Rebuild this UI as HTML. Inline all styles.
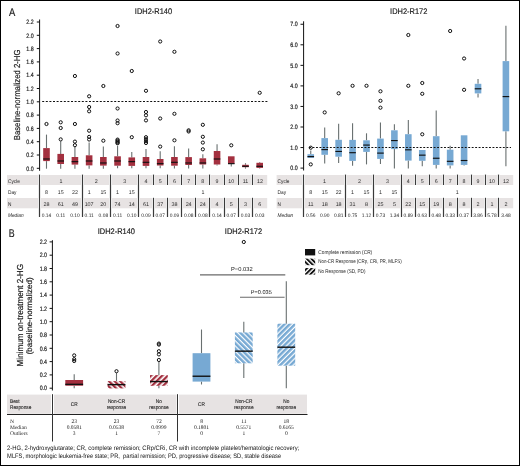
<!DOCTYPE html>
<html><head><meta charset="utf-8"><style>
html,body{margin:0;padding:0;background:#fff;}
svg{display:block;will-change:transform;}
svg{font-family:"Liberation Sans", sans-serif;}
text{text-rendering:geometricPrecision;stroke:#1a1a1a;stroke-width:0.18px;}
.s{font-family:"Liberation Serif", serif;stroke:none;}
.t{stroke:none;}
.u{stroke-width:0.1px;}
</style></head><body>
<svg width="520" height="466" viewBox="0 0 520 466" font-family='"Liberation Sans", sans-serif' fill="#1a1a1a">
<defs>
<pattern id="hr1" patternUnits="userSpaceOnUse" width="3.95" height="3.95" patternTransform="rotate(-45)"><rect width="2.3" height="3.95" fill="#a3303f"/></pattern>
<pattern id="hr2" patternUnits="userSpaceOnUse" width="3.95" height="3.95" patternTransform="rotate(45)"><rect width="2.3" height="3.95" fill="#a3303f"/></pattern>
<pattern id="hb1" patternUnits="userSpaceOnUse" width="3.7" height="3.7" patternTransform="rotate(-45)"><rect width="2.5" height="3.7" fill="#77a9d3"/></pattern>
<pattern id="hb2" patternUnits="userSpaceOnUse" width="3.7" height="3.7" patternTransform="rotate(45)"><rect width="2.5" height="3.7" fill="#77a9d3"/></pattern>
<pattern id="hk1" patternUnits="userSpaceOnUse" width="3.3" height="3.3" patternTransform="rotate(-45)"><rect width="1.9" height="3.3" fill="#111"/></pattern>
<pattern id="hk2" patternUnits="userSpaceOnUse" width="3.3" height="3.3" patternTransform="rotate(45)"><rect width="1.9" height="3.3" fill="#111"/></pattern>
</defs>
<rect x="0" y="0" width="520" height="466" fill="#fff"/>
<text transform="translate(9.1,16.4) scale(0.83,1)" font-size="11.3" text-anchor="start" >A</text>
<text transform="translate(153.5,13.8) scale(0.92,1)" font-size="8.1" text-anchor="middle" >IDH2-R140</text>
<text transform="translate(408.7,13.8) scale(0.92,1)" font-size="8.1" text-anchor="middle" >IDH2-R172</text>
<line x1="39.6" y1="19.5" x2="39.6" y2="170.8" stroke="#111" stroke-width="1"/>
<line x1="36.8" y1="168.30" x2="39.6" y2="168.30" stroke="#111" stroke-width="1"/>
<text transform="translate(33.6,170.50) scale(0.84,1)" font-size="6.3" text-anchor="end" >0.0</text>
<line x1="36.8" y1="155.00" x2="39.6" y2="155.00" stroke="#111" stroke-width="1"/>
<text transform="translate(33.6,157.20) scale(0.84,1)" font-size="6.3" text-anchor="end" >0.2</text>
<line x1="36.8" y1="141.70" x2="39.6" y2="141.70" stroke="#111" stroke-width="1"/>
<text transform="translate(33.6,143.90) scale(0.84,1)" font-size="6.3" text-anchor="end" >0.4</text>
<line x1="36.8" y1="128.40" x2="39.6" y2="128.40" stroke="#111" stroke-width="1"/>
<text transform="translate(33.6,130.60) scale(0.84,1)" font-size="6.3" text-anchor="end" >0.6</text>
<line x1="36.8" y1="115.10" x2="39.6" y2="115.10" stroke="#111" stroke-width="1"/>
<text transform="translate(33.6,117.30) scale(0.84,1)" font-size="6.3" text-anchor="end" >0.8</text>
<line x1="36.8" y1="101.80" x2="39.6" y2="101.80" stroke="#111" stroke-width="1"/>
<text transform="translate(33.6,104.00) scale(0.84,1)" font-size="6.3" text-anchor="end" >1.0</text>
<line x1="36.8" y1="88.50" x2="39.6" y2="88.50" stroke="#111" stroke-width="1"/>
<text transform="translate(33.6,90.70) scale(0.84,1)" font-size="6.3" text-anchor="end" >1.2</text>
<line x1="36.8" y1="75.20" x2="39.6" y2="75.20" stroke="#111" stroke-width="1"/>
<text transform="translate(33.6,77.40) scale(0.84,1)" font-size="6.3" text-anchor="end" >1.4</text>
<line x1="36.8" y1="61.90" x2="39.6" y2="61.90" stroke="#111" stroke-width="1"/>
<text transform="translate(33.6,64.10) scale(0.84,1)" font-size="6.3" text-anchor="end" >1.6</text>
<line x1="36.8" y1="48.60" x2="39.6" y2="48.60" stroke="#111" stroke-width="1"/>
<text transform="translate(33.6,50.80) scale(0.84,1)" font-size="6.3" text-anchor="end" >1.8</text>
<line x1="36.8" y1="35.30" x2="39.6" y2="35.30" stroke="#111" stroke-width="1"/>
<text transform="translate(33.6,37.50) scale(0.84,1)" font-size="6.3" text-anchor="end" >2.0</text>
<line x1="36.8" y1="22.00" x2="39.6" y2="22.00" stroke="#111" stroke-width="1"/>
<text transform="translate(33.6,24.20) scale(0.84,1)" font-size="6.3" text-anchor="end" >2.2</text>
<text transform="translate(20.2,94.9) rotate(-90) scale(0.89,1)" font-size="8.7" text-anchor="middle">Baseline-normalized 2-HG</text>
<line x1="46.49" y1="134.6" x2="46.49" y2="148.1" stroke="#697070" stroke-width="1.1"/>
<line x1="46.49" y1="161.1" x2="46.49" y2="168.7" stroke="#697070" stroke-width="1.1"/>
<rect x="43.190000000000005" y="148.1" width="6.6" height="13.0" fill="#a3303f"/>
<line x1="43.190000000000005" y1="158.99" x2="49.790000000000006" y2="158.99" stroke="#111" stroke-width="1.15"/>
<circle cx="46.49" cy="124.0" r="1.6" fill="none" stroke="#111" stroke-width="1"/>
<line x1="60.7" y1="141.2" x2="60.7" y2="153.9" stroke="#697070" stroke-width="1.1"/>
<line x1="60.7" y1="164.0" x2="60.7" y2="168.7" stroke="#697070" stroke-width="1.1"/>
<rect x="57.400000000000006" y="153.9" width="6.6" height="10.099999999999994" fill="#a3303f"/>
<line x1="57.400000000000006" y1="160.99" x2="64.0" y2="160.99" stroke="#111" stroke-width="1.15"/>
<circle cx="60.7" cy="139.4" r="1.6" fill="none" stroke="#111" stroke-width="1"/>
<circle cx="60.7" cy="128.0" r="1.6" fill="none" stroke="#111" stroke-width="1"/>
<circle cx="60.7" cy="122.3" r="1.6" fill="none" stroke="#111" stroke-width="1"/>
<line x1="74.92" y1="146.5" x2="74.92" y2="157.0" stroke="#697070" stroke-width="1.1"/>
<line x1="74.92" y1="164.6" x2="74.92" y2="168.7" stroke="#697070" stroke-width="1.1"/>
<rect x="71.62" y="157.0" width="6.6" height="7.599999999999994" fill="#a3303f"/>
<line x1="71.62" y1="161.65" x2="78.22" y2="161.65" stroke="#111" stroke-width="1.15"/>
<circle cx="74.92" cy="145.2" r="1.6" fill="none" stroke="#111" stroke-width="1"/>
<circle cx="74.92" cy="141.6" r="1.6" fill="none" stroke="#111" stroke-width="1"/>
<circle cx="74.92" cy="124.0" r="1.6" fill="none" stroke="#111" stroke-width="1"/>
<circle cx="74.92" cy="76.0" r="1.6" fill="none" stroke="#111" stroke-width="1"/>
<line x1="89.13" y1="142.5" x2="89.13" y2="155.3" stroke="#697070" stroke-width="1.1"/>
<line x1="89.13" y1="165.4" x2="89.13" y2="168.7" stroke="#697070" stroke-width="1.1"/>
<rect x="85.83" y="155.3" width="6.6" height="10.099999999999994" fill="#a3303f"/>
<line x1="85.83" y1="160.99" x2="92.42999999999999" y2="160.99" stroke="#111" stroke-width="1.15"/>
<circle cx="89.13" cy="139.5" r="1.6" fill="none" stroke="#111" stroke-width="1"/>
<circle cx="89.13" cy="136.9" r="1.6" fill="none" stroke="#111" stroke-width="1"/>
<circle cx="89.13" cy="130.7" r="1.6" fill="none" stroke="#111" stroke-width="1"/>
<circle cx="89.13" cy="111.3" r="1.6" fill="none" stroke="#111" stroke-width="1"/>
<circle cx="89.13" cy="107.0" r="1.6" fill="none" stroke="#111" stroke-width="1"/>
<circle cx="89.13" cy="96.3" r="1.6" fill="none" stroke="#111" stroke-width="1"/>
<line x1="103.35" y1="146.5" x2="103.35" y2="157.0" stroke="#697070" stroke-width="1.1"/>
<line x1="103.35" y1="165.6" x2="103.35" y2="168.7" stroke="#697070" stroke-width="1.1"/>
<rect x="100.05" y="157.0" width="6.6" height="8.599999999999994" fill="#a3303f"/>
<line x1="100.05" y1="162.98" x2="106.64999999999999" y2="162.98" stroke="#111" stroke-width="1.15"/>
<circle cx="103.35" cy="140.7" r="1.6" fill="none" stroke="#111" stroke-width="1"/>
<circle cx="103.35" cy="86.0" r="1.6" fill="none" stroke="#111" stroke-width="1"/>
<line x1="117.56" y1="146.0" x2="117.56" y2="156.3" stroke="#697070" stroke-width="1.1"/>
<line x1="117.56" y1="165.7" x2="117.56" y2="168.2" stroke="#697070" stroke-width="1.1"/>
<rect x="114.26" y="156.3" width="6.6" height="9.399999999999977" fill="#a3303f"/>
<line x1="114.26" y1="160.99" x2="120.86" y2="160.99" stroke="#111" stroke-width="1.15"/>
<circle cx="117.56" cy="139.6" r="1.6" fill="none" stroke="#111" stroke-width="1"/>
<circle cx="117.56" cy="140.6" r="1.6" fill="none" stroke="#111" stroke-width="1"/>
<circle cx="117.56" cy="141.6" r="1.6" fill="none" stroke="#111" stroke-width="1"/>
<circle cx="117.56" cy="142.6" r="1.6" fill="none" stroke="#111" stroke-width="1"/>
<circle cx="117.56" cy="143.3" r="1.6" fill="none" stroke="#111" stroke-width="1"/>
<circle cx="117.56" cy="123.2" r="1.6" fill="none" stroke="#111" stroke-width="1"/>
<circle cx="117.56" cy="120.5" r="1.6" fill="none" stroke="#111" stroke-width="1"/>
<circle cx="117.56" cy="108.5" r="1.6" fill="none" stroke="#111" stroke-width="1"/>
<circle cx="117.56" cy="53.5" r="1.6" fill="none" stroke="#111" stroke-width="1"/>
<circle cx="117.56" cy="26.0" r="1.6" fill="none" stroke="#111" stroke-width="1"/>
<line x1="131.77" y1="152.0" x2="131.77" y2="157.4" stroke="#697070" stroke-width="1.1"/>
<line x1="131.77" y1="165.9" x2="131.77" y2="168.2" stroke="#697070" stroke-width="1.1"/>
<rect x="128.47" y="157.4" width="6.6" height="8.5" fill="#a3303f"/>
<line x1="128.47" y1="161.65" x2="135.07" y2="161.65" stroke="#111" stroke-width="1.15"/>
<circle cx="131.77" cy="137.2" r="1.6" fill="none" stroke="#111" stroke-width="1"/>
<circle cx="131.77" cy="71.0" r="1.6" fill="none" stroke="#111" stroke-width="1"/>
<line x1="145.99" y1="148.9" x2="145.99" y2="157.0" stroke="#697070" stroke-width="1.1"/>
<line x1="145.99" y1="165.9" x2="145.99" y2="168.2" stroke="#697070" stroke-width="1.1"/>
<rect x="142.69" y="157.0" width="6.6" height="8.900000000000006" fill="#a3303f"/>
<line x1="142.69" y1="162.31" x2="149.29" y2="162.31" stroke="#111" stroke-width="1.15"/>
<circle cx="145.99" cy="137.2" r="1.6" fill="none" stroke="#111" stroke-width="1"/>
<circle cx="145.99" cy="139.2" r="1.6" fill="none" stroke="#111" stroke-width="1"/>
<circle cx="145.99" cy="141.2" r="1.6" fill="none" stroke="#111" stroke-width="1"/>
<circle cx="145.99" cy="143.0" r="1.6" fill="none" stroke="#111" stroke-width="1"/>
<circle cx="145.99" cy="120.4" r="1.6" fill="none" stroke="#111" stroke-width="1"/>
<circle cx="145.99" cy="115.3" r="1.6" fill="none" stroke="#111" stroke-width="1"/>
<circle cx="145.99" cy="112.0" r="1.6" fill="none" stroke="#111" stroke-width="1"/>
<circle cx="145.99" cy="90.8" r="1.6" fill="none" stroke="#111" stroke-width="1"/>
<line x1="160.2" y1="151.3" x2="160.2" y2="159.0" stroke="#697070" stroke-width="1.1"/>
<line x1="160.2" y1="165.5" x2="160.2" y2="168.2" stroke="#697070" stroke-width="1.1"/>
<rect x="156.89999999999998" y="159.0" width="6.6" height="6.5" fill="#a3303f"/>
<line x1="156.89999999999998" y1="163.65" x2="163.49999999999997" y2="163.65" stroke="#111" stroke-width="1.15"/>
<circle cx="160.2" cy="146.6" r="1.6" fill="none" stroke="#111" stroke-width="1"/>
<circle cx="160.2" cy="118.5" r="1.6" fill="none" stroke="#111" stroke-width="1"/>
<circle cx="160.2" cy="41.5" r="1.6" fill="none" stroke="#111" stroke-width="1"/>
<line x1="174.42" y1="146.2" x2="174.42" y2="157.0" stroke="#697070" stroke-width="1.1"/>
<line x1="174.42" y1="165.7" x2="174.42" y2="168.6" stroke="#697070" stroke-width="1.1"/>
<rect x="171.11999999999998" y="157.0" width="6.6" height="8.699999999999989" fill="#a3303f"/>
<line x1="171.11999999999998" y1="162.31" x2="177.71999999999997" y2="162.31" stroke="#111" stroke-width="1.15"/>
<circle cx="174.42" cy="140.3" r="1.6" fill="none" stroke="#111" stroke-width="1"/>
<circle cx="174.42" cy="113.8" r="1.6" fill="none" stroke="#111" stroke-width="1"/>
<circle cx="174.42" cy="51.8" r="1.6" fill="none" stroke="#111" stroke-width="1"/>
<line x1="188.63" y1="148.4" x2="188.63" y2="157.1" stroke="#697070" stroke-width="1.1"/>
<line x1="188.63" y1="165.0" x2="188.63" y2="168.6" stroke="#697070" stroke-width="1.1"/>
<rect x="185.32999999999998" y="157.1" width="6.6" height="7.900000000000006" fill="#a3303f"/>
<line x1="185.32999999999998" y1="162.98" x2="191.92999999999998" y2="162.98" stroke="#111" stroke-width="1.15"/>
<circle cx="188.63" cy="130.3" r="1.6" fill="none" stroke="#111" stroke-width="1"/>
<circle cx="188.63" cy="131.5" r="1.6" fill="none" stroke="#111" stroke-width="1"/>
<line x1="202.84" y1="154.3" x2="202.84" y2="158.3" stroke="#697070" stroke-width="1.1"/>
<line x1="202.84" y1="164.5" x2="202.84" y2="168.6" stroke="#697070" stroke-width="1.1"/>
<rect x="199.54" y="158.3" width="6.6" height="6.199999999999989" fill="#a3303f"/>
<line x1="199.54" y1="162.98" x2="206.14" y2="162.98" stroke="#111" stroke-width="1.15"/>
<circle cx="202.84" cy="149.3" r="1.6" fill="none" stroke="#111" stroke-width="1"/>
<circle cx="202.84" cy="142.6" r="1.6" fill="none" stroke="#111" stroke-width="1"/>
<circle cx="202.84" cy="136.8" r="1.6" fill="none" stroke="#111" stroke-width="1"/>
<circle cx="202.84" cy="124.8" r="1.6" fill="none" stroke="#111" stroke-width="1"/>
<line x1="217.06" y1="144.3" x2="217.06" y2="151.0" stroke="#697070" stroke-width="1.1"/>
<line x1="217.06" y1="164.5" x2="217.06" y2="165.5" stroke="#697070" stroke-width="1.1"/>
<rect x="213.76" y="151.0" width="6.6" height="13.5" fill="#a3303f"/>
<line x1="213.76" y1="158.99" x2="220.35999999999999" y2="158.99" stroke="#111" stroke-width="1.15"/>
<line x1="231.27" y1="163.7" x2="231.27" y2="166.5" stroke="#697070" stroke-width="1.1"/>
<rect x="227.97" y="156.3" width="6.6" height="7.399999999999977" fill="#a3303f"/>
<line x1="227.97" y1="163.65" x2="234.57" y2="163.65" stroke="#111" stroke-width="1.15"/>
<circle cx="231.27" cy="145.3" r="1.6" fill="none" stroke="#111" stroke-width="1"/>
<line x1="245.49" y1="163.2" x2="245.49" y2="164.8" stroke="#697070" stroke-width="1.1"/>
<line x1="245.49" y1="167.2" x2="245.49" y2="168.6" stroke="#697070" stroke-width="1.1"/>
<rect x="242.19" y="164.8" width="6.6" height="2.3999999999999773" fill="#a3303f"/>
<line x1="242.19" y1="166.31" x2="248.79" y2="166.31" stroke="#111" stroke-width="1.15"/>
<line x1="259.7" y1="162.1" x2="259.7" y2="162.8" stroke="#697070" stroke-width="1.1"/>
<line x1="259.7" y1="167.9" x2="259.7" y2="168.6" stroke="#697070" stroke-width="1.1"/>
<rect x="256.4" y="162.8" width="6.6" height="5.099999999999994" fill="#a3303f"/>
<line x1="256.4" y1="166.31" x2="263.0" y2="166.31" stroke="#111" stroke-width="1.15"/>
<circle cx="259.7" cy="92.8" r="1.6" fill="none" stroke="#111" stroke-width="1"/>
<line x1="42.2" y1="101.5" x2="268" y2="101.5" stroke="#111" stroke-width="1" stroke-dasharray="2 1.6"/>
<line x1="303.6" y1="21.3" x2="303.6" y2="170.5" stroke="#111" stroke-width="1"/>
<line x1="300.5" y1="168.10" x2="303.6" y2="168.10" stroke="#111" stroke-width="1"/>
<text transform="translate(297.6,170.30) scale(0.84,1)" font-size="6.3" text-anchor="end" >0.0</text>
<line x1="300.5" y1="147.55" x2="303.6" y2="147.55" stroke="#111" stroke-width="1"/>
<text transform="translate(297.6,149.75) scale(0.84,1)" font-size="6.3" text-anchor="end" >1.0</text>
<line x1="300.5" y1="127.00" x2="303.6" y2="127.00" stroke="#111" stroke-width="1"/>
<text transform="translate(297.6,129.20) scale(0.84,1)" font-size="6.3" text-anchor="end" >2.0</text>
<line x1="300.5" y1="106.45" x2="303.6" y2="106.45" stroke="#111" stroke-width="1"/>
<text transform="translate(297.6,108.65) scale(0.84,1)" font-size="6.3" text-anchor="end" >3.0</text>
<line x1="300.5" y1="85.90" x2="303.6" y2="85.90" stroke="#111" stroke-width="1"/>
<text transform="translate(297.6,88.10) scale(0.84,1)" font-size="6.3" text-anchor="end" >4.0</text>
<line x1="300.5" y1="65.35" x2="303.6" y2="65.35" stroke="#111" stroke-width="1"/>
<text transform="translate(297.6,67.55) scale(0.84,1)" font-size="6.3" text-anchor="end" >5.0</text>
<line x1="300.5" y1="44.80" x2="303.6" y2="44.80" stroke="#111" stroke-width="1"/>
<text transform="translate(297.6,47.00) scale(0.84,1)" font-size="6.3" text-anchor="end" >6.0</text>
<line x1="300.5" y1="24.25" x2="303.6" y2="24.25" stroke="#111" stroke-width="1"/>
<text transform="translate(297.6,26.45) scale(0.84,1)" font-size="6.3" text-anchor="end" >7.0</text>
<line x1="310.75" y1="150.5" x2="310.75" y2="154.2" stroke="#697070" stroke-width="1.1"/>
<rect x="307.45" y="154.2" width="6.6" height="3.700000000000017" fill="#77a9d3"/>
<line x1="307.45" y1="156.59" x2="314.05" y2="156.59" stroke="#111" stroke-width="1.15"/>
<circle cx="310.75" cy="147.7" r="1.6" fill="none" stroke="#111" stroke-width="1"/>
<circle cx="310.75" cy="164.4" r="1.6" fill="none" stroke="#111" stroke-width="1"/>
<line x1="324.69" y1="127.4" x2="324.69" y2="138.1" stroke="#697070" stroke-width="1.1"/>
<line x1="324.69" y1="154.8" x2="324.69" y2="163.4" stroke="#697070" stroke-width="1.1"/>
<rect x="321.39" y="138.1" width="6.6" height="16.700000000000017" fill="#77a9d3"/>
<line x1="321.39" y1="149.6" x2="327.99" y2="149.6" stroke="#111" stroke-width="1.15"/>
<circle cx="324.69" cy="112.4" r="1.6" fill="none" stroke="#111" stroke-width="1"/>
<line x1="338.63" y1="123.8" x2="338.63" y2="139.8" stroke="#697070" stroke-width="1.1"/>
<line x1="338.63" y1="156.7" x2="338.63" y2="163.1" stroke="#697070" stroke-width="1.1"/>
<rect x="335.33" y="139.8" width="6.6" height="16.899999999999977" fill="#77a9d3"/>
<line x1="335.33" y1="151.45" x2="341.93" y2="151.45" stroke="#111" stroke-width="1.15"/>
<circle cx="338.63" cy="93.3" r="1.6" fill="none" stroke="#111" stroke-width="1"/>
<line x1="352.57" y1="123.3" x2="352.57" y2="139.9" stroke="#697070" stroke-width="1.1"/>
<line x1="352.57" y1="160.9" x2="352.57" y2="165.7" stroke="#697070" stroke-width="1.1"/>
<rect x="349.27" y="139.9" width="6.6" height="21.0" fill="#77a9d3"/>
<line x1="349.27" y1="152.69" x2="355.87" y2="152.69" stroke="#111" stroke-width="1.15"/>
<circle cx="352.57" cy="85.8" r="1.6" fill="none" stroke="#111" stroke-width="1"/>
<line x1="366.51" y1="133.3" x2="366.51" y2="140.3" stroke="#697070" stroke-width="1.1"/>
<line x1="366.51" y1="151.9" x2="366.51" y2="164.4" stroke="#697070" stroke-width="1.1"/>
<rect x="363.21" y="140.3" width="6.6" height="11.599999999999994" fill="#77a9d3"/>
<line x1="363.21" y1="145.08" x2="369.81" y2="145.08" stroke="#111" stroke-width="1.15"/>
<circle cx="366.51" cy="85.8" r="1.6" fill="none" stroke="#111" stroke-width="1"/>
<line x1="380.45" y1="122.5" x2="380.45" y2="138.6" stroke="#697070" stroke-width="1.1"/>
<line x1="380.45" y1="158.9" x2="380.45" y2="164.1" stroke="#697070" stroke-width="1.1"/>
<rect x="377.15" y="138.6" width="6.6" height="20.30000000000001" fill="#77a9d3"/>
<line x1="377.15" y1="153.1" x2="383.75" y2="153.1" stroke="#111" stroke-width="1.15"/>
<circle cx="380.45" cy="107.7" r="1.6" fill="none" stroke="#111" stroke-width="1"/>
<circle cx="380.45" cy="100.8" r="1.6" fill="none" stroke="#111" stroke-width="1"/>
<circle cx="380.45" cy="91.3" r="1.6" fill="none" stroke="#111" stroke-width="1"/>
<line x1="394.39" y1="124.2" x2="394.39" y2="130.3" stroke="#697070" stroke-width="1.1"/>
<line x1="394.39" y1="149.1" x2="394.39" y2="168.4" stroke="#697070" stroke-width="1.1"/>
<rect x="391.09" y="130.3" width="6.6" height="18.799999999999983" fill="#77a9d3"/>
<line x1="391.09" y1="140.56" x2="397.69" y2="140.56" stroke="#111" stroke-width="1.15"/>
<line x1="408.33" y1="120.1" x2="408.33" y2="134.2" stroke="#697070" stroke-width="1.1"/>
<line x1="408.33" y1="160.6" x2="408.33" y2="168.5" stroke="#697070" stroke-width="1.1"/>
<rect x="405.03" y="134.2" width="6.6" height="26.400000000000006" fill="#77a9d3"/>
<line x1="405.03" y1="149.81" x2="411.63" y2="149.81" stroke="#111" stroke-width="1.15"/>
<circle cx="408.33" cy="85.8" r="1.6" fill="none" stroke="#111" stroke-width="1"/>
<circle cx="408.33" cy="35.0" r="1.6" fill="none" stroke="#111" stroke-width="1"/>
<line x1="422.27" y1="160.8" x2="422.27" y2="166.2" stroke="#697070" stroke-width="1.1"/>
<rect x="418.96999999999997" y="150.0" width="6.6" height="10.800000000000011" fill="#77a9d3"/>
<line x1="418.96999999999997" y1="155.15" x2="425.57" y2="155.15" stroke="#111" stroke-width="1.15"/>
<circle cx="422.27" cy="134.3" r="1.6" fill="none" stroke="#111" stroke-width="1"/>
<circle cx="422.27" cy="93.8" r="1.6" fill="none" stroke="#111" stroke-width="1"/>
<circle cx="422.27" cy="83.0" r="1.6" fill="none" stroke="#111" stroke-width="1"/>
<line x1="436.21" y1="110.6" x2="436.21" y2="136.2" stroke="#697070" stroke-width="1.1"/>
<line x1="436.21" y1="164.9" x2="436.21" y2="168.5" stroke="#697070" stroke-width="1.1"/>
<rect x="432.90999999999997" y="136.2" width="6.6" height="28.700000000000017" fill="#77a9d3"/>
<line x1="432.90999999999997" y1="158.24" x2="439.51" y2="158.24" stroke="#111" stroke-width="1.15"/>
<line x1="450.15" y1="145.8" x2="450.15" y2="149.7" stroke="#697070" stroke-width="1.1"/>
<line x1="450.15" y1="165.4" x2="450.15" y2="168.5" stroke="#697070" stroke-width="1.1"/>
<rect x="446.84999999999997" y="149.7" width="6.6" height="15.700000000000017" fill="#77a9d3"/>
<line x1="446.84999999999997" y1="161.32" x2="453.45" y2="161.32" stroke="#111" stroke-width="1.15"/>
<circle cx="450.15" cy="31.0" r="1.6" fill="none" stroke="#111" stroke-width="1"/>
<line x1="464.09" y1="164.9" x2="464.09" y2="165.4" stroke="#697070" stroke-width="1.1"/>
<rect x="460.78999999999996" y="135.3" width="6.6" height="29.599999999999994" fill="#77a9d3"/>
<line x1="460.78999999999996" y1="160.5" x2="467.39" y2="160.5" stroke="#111" stroke-width="1.15"/>
<circle cx="464.09" cy="89.8" r="1.6" fill="none" stroke="#111" stroke-width="1"/>
<circle cx="464.09" cy="58.5" r="1.6" fill="none" stroke="#111" stroke-width="1"/>
<line x1="478.03" y1="78.9" x2="478.03" y2="83.8" stroke="#697070" stroke-width="1.1"/>
<line x1="478.03" y1="93.4" x2="478.03" y2="97.6" stroke="#697070" stroke-width="1.1"/>
<rect x="474.72999999999996" y="83.8" width="6.6" height="9.600000000000009" fill="#77a9d3"/>
<line x1="474.72999999999996" y1="88.78" x2="481.33" y2="88.78" stroke="#111" stroke-width="1.15"/>
<line x1="505.91" y1="25.8" x2="505.91" y2="61.1" stroke="#697070" stroke-width="1.1"/>
<line x1="505.91" y1="131.3" x2="505.91" y2="166.3" stroke="#697070" stroke-width="1.1"/>
<rect x="502.61" y="61.1" width="6.6" height="70.20000000000002" fill="#77a9d3"/>
<line x1="502.61" y1="96.59" x2="509.21000000000004" y2="96.59" stroke="#111" stroke-width="1.15"/>
<line x1="309.1" y1="147.5" x2="511" y2="147.5" stroke="#111" stroke-width="1" stroke-dasharray="1.9 1.56"/>
<rect x="7" y="175" width="31" height="10" fill="#e7e3e3"/>
<rect x="7" y="198" width="31" height="10.3" fill="#e7e3e3"/>
<text transform="translate(8,183.0) scale(0.9,1)" font-size="5.3" text-anchor="start" fill="#2a2a2a" class="t">Cycle</text>
<text transform="translate(8,193.8) scale(0.9,1)" font-size="5.3" text-anchor="start" fill="#2a2a2a" class="t">Day</text>
<text transform="translate(8,206.3) scale(0.9,1)" font-size="5.3" text-anchor="start" fill="#2a2a2a" class="t">N</text>
<text transform="translate(8,216.7) scale(0.9,1)" font-size="5.3" text-anchor="start" fill="#2a2a2a" class="t" font-style="italic">Median</text>
<rect x="41" y="175" width="40.00" height="10" fill="#e7e3e3"/>
<rect x="41" y="198" width="40.00" height="10.3" fill="#e7e3e3"/>
<text x="60.86" y="183.1" font-size="5.3" text-anchor="middle" fill="#2a2a2a" class="t">1</text>
<rect x="84" y="175" width="25.00" height="10" fill="#e7e3e3"/>
<rect x="84" y="198" width="25.00" height="10.3" fill="#e7e3e3"/>
<text x="96.24" y="183.1" font-size="5.3" text-anchor="middle" fill="#2a2a2a" class="t">2</text>
<rect x="112" y="175" width="25.00" height="10" fill="#e7e3e3"/>
<rect x="112" y="198" width="25.00" height="10.3" fill="#e7e3e3"/>
<text x="124.67" y="183.1" font-size="5.3" text-anchor="middle" fill="#2a2a2a" class="t">3</text>
<rect x="140" y="175" width="12.00" height="10" fill="#e7e3e3"/>
<rect x="140" y="198" width="12.00" height="10.3" fill="#e7e3e3"/>
<text x="145.99" y="183.1" font-size="5.3" text-anchor="middle" fill="#2a2a2a" class="t">4</text>
<rect x="155" y="175" width="11.00" height="10" fill="#e7e3e3"/>
<rect x="155" y="198" width="11.00" height="10.3" fill="#e7e3e3"/>
<text x="160.20" y="183.1" font-size="5.3" text-anchor="middle" fill="#2a2a2a" class="t">5</text>
<rect x="169" y="175" width="11.00" height="10" fill="#e7e3e3"/>
<rect x="169" y="198" width="11.00" height="10.3" fill="#e7e3e3"/>
<text x="174.42" y="183.1" font-size="5.3" text-anchor="middle" fill="#2a2a2a" class="t">6</text>
<rect x="183" y="175" width="11.00" height="10" fill="#e7e3e3"/>
<rect x="183" y="198" width="11.00" height="10.3" fill="#e7e3e3"/>
<text x="188.63" y="183.1" font-size="5.3" text-anchor="middle" fill="#2a2a2a" class="t">7</text>
<rect x="197" y="175" width="11.00" height="10" fill="#e7e3e3"/>
<rect x="197" y="198" width="11.00" height="10.3" fill="#e7e3e3"/>
<text x="202.84" y="183.1" font-size="5.3" text-anchor="middle" fill="#2a2a2a" class="t">8</text>
<rect x="211" y="175" width="12.00" height="10" fill="#e7e3e3"/>
<rect x="211" y="198" width="12.00" height="10.3" fill="#e7e3e3"/>
<text x="217.06" y="183.1" font-size="5.3" text-anchor="middle" fill="#2a2a2a" class="t">9</text>
<rect x="226" y="175" width="11.00" height="10" fill="#e7e3e3"/>
<rect x="226" y="198" width="11.00" height="10.3" fill="#e7e3e3"/>
<text x="231.27" y="183.1" font-size="5.3" text-anchor="middle" fill="#2a2a2a" class="t">10</text>
<rect x="240" y="175" width="11.00" height="10" fill="#e7e3e3"/>
<rect x="240" y="198" width="11.00" height="10.3" fill="#e7e3e3"/>
<text x="245.49" y="183.1" font-size="5.3" text-anchor="middle" fill="#2a2a2a" class="t">11</text>
<rect x="254" y="175" width="13.20" height="10" fill="#e7e3e3"/>
<rect x="254" y="198" width="13.20" height="10.3" fill="#e7e3e3"/>
<text x="259.90" y="183.1" font-size="5.3" text-anchor="middle" fill="#2a2a2a" class="t">12</text>
<line x1="39.5" y1="174.6" x2="39.5" y2="217" stroke="#3a3a3a" stroke-width="1.2"/>
<line x1="82.5" y1="174.6" x2="82.5" y2="217" stroke="#3a3a3a" stroke-width="1.2"/>
<line x1="110.5" y1="174.6" x2="110.5" y2="217" stroke="#3a3a3a" stroke-width="1.2"/>
<line x1="138.5" y1="174.6" x2="138.5" y2="217" stroke="#3a3a3a" stroke-width="1.2"/>
<line x1="153.5" y1="174.6" x2="153.5" y2="185" stroke="#3a3a3a" stroke-width="1.2"/>
<line x1="153.5" y1="197.8" x2="153.5" y2="217" stroke="#3a3a3a" stroke-width="1.2"/>
<line x1="167.5" y1="174.6" x2="167.5" y2="185" stroke="#3a3a3a" stroke-width="1.2"/>
<line x1="167.5" y1="197.8" x2="167.5" y2="217" stroke="#3a3a3a" stroke-width="1.2"/>
<line x1="181.5" y1="174.6" x2="181.5" y2="185" stroke="#3a3a3a" stroke-width="1.2"/>
<line x1="181.5" y1="197.8" x2="181.5" y2="217" stroke="#3a3a3a" stroke-width="1.2"/>
<line x1="195.5" y1="174.6" x2="195.5" y2="185" stroke="#3a3a3a" stroke-width="1.2"/>
<line x1="195.5" y1="197.8" x2="195.5" y2="217" stroke="#3a3a3a" stroke-width="1.2"/>
<line x1="209.5" y1="174.6" x2="209.5" y2="185" stroke="#3a3a3a" stroke-width="1.2"/>
<line x1="209.5" y1="197.8" x2="209.5" y2="217" stroke="#3a3a3a" stroke-width="1.2"/>
<line x1="224.5" y1="174.6" x2="224.5" y2="185" stroke="#3a3a3a" stroke-width="1.2"/>
<line x1="224.5" y1="197.8" x2="224.5" y2="217" stroke="#3a3a3a" stroke-width="1.2"/>
<line x1="238.5" y1="174.6" x2="238.5" y2="185" stroke="#3a3a3a" stroke-width="1.2"/>
<line x1="238.5" y1="197.8" x2="238.5" y2="217" stroke="#3a3a3a" stroke-width="1.2"/>
<line x1="252.5" y1="174.6" x2="252.5" y2="185" stroke="#3a3a3a" stroke-width="1.2"/>
<line x1="252.5" y1="197.8" x2="252.5" y2="217" stroke="#3a3a3a" stroke-width="1.2"/>
<text x="46.49" y="193.8" font-size="5.3" text-anchor="middle" fill="#2a2a2a" class="t">8</text>
<text x="60.70" y="193.8" font-size="5.3" text-anchor="middle" fill="#2a2a2a" class="t">15</text>
<text x="74.92" y="193.8" font-size="5.3" text-anchor="middle" fill="#2a2a2a" class="t">22</text>
<text x="89.13" y="193.8" font-size="5.3" text-anchor="middle" fill="#2a2a2a" class="t">1</text>
<text x="103.35" y="193.8" font-size="5.3" text-anchor="middle" fill="#2a2a2a" class="t">15</text>
<text x="117.56" y="193.8" font-size="5.3" text-anchor="middle" fill="#2a2a2a" class="t">1</text>
<text x="131.77" y="193.8" font-size="5.3" text-anchor="middle" fill="#2a2a2a" class="t">15</text>
<text x="203.04" y="193.8" font-size="5.3" text-anchor="middle" fill="#2a2a2a" class="t">1</text>
<text x="46.49" y="206.4" font-size="5.4" text-anchor="middle" fill="#2a2a2a" class="t">28</text>
<text x="60.70" y="206.4" font-size="5.4" text-anchor="middle" fill="#2a2a2a" class="t">61</text>
<text x="74.92" y="206.4" font-size="5.4" text-anchor="middle" fill="#2a2a2a" class="t">49</text>
<text x="89.13" y="206.4" font-size="5.4" text-anchor="middle" fill="#2a2a2a" class="t">107</text>
<text x="103.35" y="206.4" font-size="5.4" text-anchor="middle" fill="#2a2a2a" class="t">20</text>
<text x="117.56" y="206.4" font-size="5.4" text-anchor="middle" fill="#2a2a2a" class="t">74</text>
<text x="131.77" y="206.4" font-size="5.4" text-anchor="middle" fill="#2a2a2a" class="t">14</text>
<text x="145.99" y="206.4" font-size="5.4" text-anchor="middle" fill="#2a2a2a" class="t">61</text>
<text x="160.20" y="206.4" font-size="5.4" text-anchor="middle" fill="#2a2a2a" class="t">37</text>
<text x="174.42" y="206.4" font-size="5.4" text-anchor="middle" fill="#2a2a2a" class="t">38</text>
<text x="188.63" y="206.4" font-size="5.4" text-anchor="middle" fill="#2a2a2a" class="t">24</text>
<text x="202.84" y="206.4" font-size="5.4" text-anchor="middle" fill="#2a2a2a" class="t">24</text>
<text x="217.06" y="206.4" font-size="5.4" text-anchor="middle" fill="#2a2a2a" class="t">4</text>
<text x="231.27" y="206.4" font-size="5.4" text-anchor="middle" fill="#2a2a2a" class="t">5</text>
<text x="245.49" y="206.4" font-size="5.4" text-anchor="middle" fill="#2a2a2a" class="t">3</text>
<text x="259.70" y="206.4" font-size="5.4" text-anchor="middle" fill="#2a2a2a" class="t">6</text>
<text transform="translate(46.49,216.8) scale(0.96,1)" font-size="5.1" text-anchor="middle" fill="#2a2a2a" class="t">0.14</text>
<text transform="translate(60.70,216.8) scale(0.96,1)" font-size="5.1" text-anchor="middle" fill="#2a2a2a" class="t">0.11</text>
<text transform="translate(74.92,216.8) scale(0.96,1)" font-size="5.1" text-anchor="middle" fill="#2a2a2a" class="t">0.10</text>
<text transform="translate(89.13,216.8) scale(0.96,1)" font-size="5.1" text-anchor="middle" fill="#2a2a2a" class="t">0.11</text>
<text transform="translate(103.35,216.8) scale(0.96,1)" font-size="5.1" text-anchor="middle" fill="#2a2a2a" class="t">0.08</text>
<text transform="translate(117.56,216.8) scale(0.96,1)" font-size="5.1" text-anchor="middle" fill="#2a2a2a" class="t">0.11</text>
<text transform="translate(131.77,216.8) scale(0.96,1)" font-size="5.1" text-anchor="middle" fill="#2a2a2a" class="t">0.10</text>
<text transform="translate(145.99,216.8) scale(0.96,1)" font-size="5.1" text-anchor="middle" fill="#2a2a2a" class="t">0.09</text>
<text transform="translate(160.20,216.8) scale(0.96,1)" font-size="5.1" text-anchor="middle" fill="#2a2a2a" class="t">0.07</text>
<text transform="translate(174.42,216.8) scale(0.96,1)" font-size="5.1" text-anchor="middle" fill="#2a2a2a" class="t">0.09</text>
<text transform="translate(188.63,216.8) scale(0.96,1)" font-size="5.1" text-anchor="middle" fill="#2a2a2a" class="t">0.08</text>
<text transform="translate(202.84,216.8) scale(0.96,1)" font-size="5.1" text-anchor="middle" fill="#2a2a2a" class="t">0.08</text>
<text transform="translate(217.06,216.8) scale(0.96,1)" font-size="5.1" text-anchor="middle" fill="#2a2a2a" class="t">0.14</text>
<text transform="translate(231.27,216.8) scale(0.96,1)" font-size="5.1" text-anchor="middle" fill="#2a2a2a" class="t">0.07</text>
<text transform="translate(245.49,216.8) scale(0.96,1)" font-size="5.1" text-anchor="middle" fill="#2a2a2a" class="t">0.03</text>
<text transform="translate(259.70,216.8) scale(0.96,1)" font-size="5.1" text-anchor="middle" fill="#2a2a2a" class="t">0.03</text>
<rect x="276.6" y="175" width="25.399999999999977" height="10" fill="#e7e3e3"/>
<rect x="276.6" y="198" width="25.399999999999977" height="10.3" fill="#e7e3e3"/>
<text transform="translate(277.6,183.0) scale(0.9,1)" font-size="5.3" text-anchor="start" fill="#2a2a2a" class="t">Cycle</text>
<text transform="translate(277.6,193.8) scale(0.9,1)" font-size="5.3" text-anchor="start" fill="#2a2a2a" class="t">Day</text>
<text transform="translate(277.6,206.3) scale(0.9,1)" font-size="5.3" text-anchor="start" fill="#2a2a2a" class="t">N</text>
<text transform="translate(277.6,216.7) scale(0.9,1)" font-size="5.3" text-anchor="start" fill="#2a2a2a" class="t" font-style="italic">Median</text>
<rect x="305" y="175" width="39.00" height="10" fill="#e7e3e3"/>
<rect x="305" y="198" width="39.00" height="10.3" fill="#e7e3e3"/>
<text x="324.60" y="183.1" font-size="5.3" text-anchor="middle" fill="#2a2a2a" class="t">1</text>
<rect x="347" y="175" width="25.00" height="10" fill="#e7e3e3"/>
<rect x="347" y="198" width="25.00" height="10.3" fill="#e7e3e3"/>
<text x="359.54" y="183.1" font-size="5.3" text-anchor="middle" fill="#2a2a2a" class="t">2</text>
<rect x="375" y="175" width="25.00" height="10" fill="#e7e3e3"/>
<rect x="375" y="198" width="25.00" height="10.3" fill="#e7e3e3"/>
<text x="387.42" y="183.1" font-size="5.3" text-anchor="middle" fill="#2a2a2a" class="t">3</text>
<rect x="403" y="175" width="11.00" height="10" fill="#e7e3e3"/>
<rect x="403" y="198" width="11.00" height="10.3" fill="#e7e3e3"/>
<text x="408.33" y="183.1" font-size="5.3" text-anchor="middle" fill="#2a2a2a" class="t">4</text>
<rect x="417" y="175" width="11.00" height="10" fill="#e7e3e3"/>
<rect x="417" y="198" width="11.00" height="10.3" fill="#e7e3e3"/>
<text x="422.27" y="183.1" font-size="5.3" text-anchor="middle" fill="#2a2a2a" class="t">5</text>
<rect x="431" y="175" width="11.00" height="10" fill="#e7e3e3"/>
<rect x="431" y="198" width="11.00" height="10.3" fill="#e7e3e3"/>
<text x="436.21" y="183.1" font-size="5.3" text-anchor="middle" fill="#2a2a2a" class="t">6</text>
<rect x="445" y="175" width="11.00" height="10" fill="#e7e3e3"/>
<rect x="445" y="198" width="11.00" height="10.3" fill="#e7e3e3"/>
<text x="450.15" y="183.1" font-size="5.3" text-anchor="middle" fill="#2a2a2a" class="t">7</text>
<rect x="459" y="175" width="11.00" height="10" fill="#e7e3e3"/>
<rect x="459" y="198" width="11.00" height="10.3" fill="#e7e3e3"/>
<text x="464.09" y="183.1" font-size="5.3" text-anchor="middle" fill="#2a2a2a" class="t">8</text>
<rect x="473" y="175" width="11.00" height="10" fill="#e7e3e3"/>
<rect x="473" y="198" width="11.00" height="10.3" fill="#e7e3e3"/>
<text x="478.03" y="183.1" font-size="5.3" text-anchor="middle" fill="#2a2a2a" class="t">9</text>
<rect x="487" y="175" width="10.00" height="10" fill="#e7e3e3"/>
<rect x="487" y="198" width="10.00" height="10.3" fill="#e7e3e3"/>
<text x="491.97" y="183.1" font-size="5.3" text-anchor="middle" fill="#2a2a2a" class="t">10</text>
<rect x="500" y="175" width="13.20" height="10" fill="#e7e3e3"/>
<rect x="500" y="198" width="13.20" height="10.3" fill="#e7e3e3"/>
<text x="506.07" y="183.1" font-size="5.3" text-anchor="middle" fill="#2a2a2a" class="t">12</text>
<line x1="303.5" y1="174.6" x2="303.5" y2="217" stroke="#3a3a3a" stroke-width="1.2"/>
<line x1="345.5" y1="174.6" x2="345.5" y2="217" stroke="#3a3a3a" stroke-width="1.2"/>
<line x1="373.5" y1="174.6" x2="373.5" y2="217" stroke="#3a3a3a" stroke-width="1.2"/>
<line x1="401.5" y1="174.6" x2="401.5" y2="217" stroke="#3a3a3a" stroke-width="1.2"/>
<line x1="415.5" y1="174.6" x2="415.5" y2="185" stroke="#3a3a3a" stroke-width="1.2"/>
<line x1="415.5" y1="197.8" x2="415.5" y2="217" stroke="#3a3a3a" stroke-width="1.2"/>
<line x1="429.5" y1="174.6" x2="429.5" y2="185" stroke="#3a3a3a" stroke-width="1.2"/>
<line x1="429.5" y1="197.8" x2="429.5" y2="217" stroke="#3a3a3a" stroke-width="1.2"/>
<line x1="443.5" y1="174.6" x2="443.5" y2="185" stroke="#3a3a3a" stroke-width="1.2"/>
<line x1="443.5" y1="197.8" x2="443.5" y2="217" stroke="#3a3a3a" stroke-width="1.2"/>
<line x1="457.5" y1="174.6" x2="457.5" y2="185" stroke="#3a3a3a" stroke-width="1.2"/>
<line x1="457.5" y1="197.8" x2="457.5" y2="217" stroke="#3a3a3a" stroke-width="1.2"/>
<line x1="471.5" y1="174.6" x2="471.5" y2="185" stroke="#3a3a3a" stroke-width="1.2"/>
<line x1="471.5" y1="197.8" x2="471.5" y2="217" stroke="#3a3a3a" stroke-width="1.2"/>
<line x1="485.5" y1="174.6" x2="485.5" y2="185" stroke="#3a3a3a" stroke-width="1.2"/>
<line x1="485.5" y1="197.8" x2="485.5" y2="217" stroke="#3a3a3a" stroke-width="1.2"/>
<line x1="498.5" y1="174.6" x2="498.5" y2="185" stroke="#3a3a3a" stroke-width="1.2"/>
<line x1="498.5" y1="197.8" x2="498.5" y2="217" stroke="#3a3a3a" stroke-width="1.2"/>
<text x="310.75" y="193.8" font-size="5.3" text-anchor="middle" fill="#2a2a2a" class="t">8</text>
<text x="324.69" y="193.8" font-size="5.3" text-anchor="middle" fill="#2a2a2a" class="t">15</text>
<text x="338.63" y="193.8" font-size="5.3" text-anchor="middle" fill="#2a2a2a" class="t">22</text>
<text x="352.57" y="193.8" font-size="5.3" text-anchor="middle" fill="#2a2a2a" class="t">1</text>
<text x="366.51" y="193.8" font-size="5.3" text-anchor="middle" fill="#2a2a2a" class="t">15</text>
<text x="380.45" y="193.8" font-size="5.3" text-anchor="middle" fill="#2a2a2a" class="t">1</text>
<text x="394.39" y="193.8" font-size="5.3" text-anchor="middle" fill="#2a2a2a" class="t">15</text>
<text x="457.28" y="193.8" font-size="5.3" text-anchor="middle" fill="#2a2a2a" class="t">1</text>
<text x="310.75" y="206.4" font-size="5.4" text-anchor="middle" fill="#2a2a2a" class="t">11</text>
<text x="324.69" y="206.4" font-size="5.4" text-anchor="middle" fill="#2a2a2a" class="t">18</text>
<text x="338.63" y="206.4" font-size="5.4" text-anchor="middle" fill="#2a2a2a" class="t">18</text>
<text x="352.57" y="206.4" font-size="5.4" text-anchor="middle" fill="#2a2a2a" class="t">31</text>
<text x="366.51" y="206.4" font-size="5.4" text-anchor="middle" fill="#2a2a2a" class="t">8</text>
<text x="380.45" y="206.4" font-size="5.4" text-anchor="middle" fill="#2a2a2a" class="t">25</text>
<text x="394.39" y="206.4" font-size="5.4" text-anchor="middle" fill="#2a2a2a" class="t">5</text>
<text x="408.33" y="206.4" font-size="5.4" text-anchor="middle" fill="#2a2a2a" class="t">22</text>
<text x="422.27" y="206.4" font-size="5.4" text-anchor="middle" fill="#2a2a2a" class="t">15</text>
<text x="436.21" y="206.4" font-size="5.4" text-anchor="middle" fill="#2a2a2a" class="t">19</text>
<text x="450.15" y="206.4" font-size="5.4" text-anchor="middle" fill="#2a2a2a" class="t">8</text>
<text x="464.09" y="206.4" font-size="5.4" text-anchor="middle" fill="#2a2a2a" class="t">8</text>
<text x="478.03" y="206.4" font-size="5.4" text-anchor="middle" fill="#2a2a2a" class="t">2</text>
<text x="491.97" y="206.4" font-size="5.4" text-anchor="middle" fill="#2a2a2a" class="t">1</text>
<text x="505.91" y="206.4" font-size="5.4" text-anchor="middle" fill="#2a2a2a" class="t">2</text>
<text transform="translate(310.75,216.8) scale(0.96,1)" font-size="5.1" text-anchor="middle" fill="#2a2a2a" class="t">0.56</text>
<text transform="translate(324.69,216.8) scale(0.96,1)" font-size="5.1" text-anchor="middle" fill="#2a2a2a" class="t">0.90</text>
<text transform="translate(338.63,216.8) scale(0.96,1)" font-size="5.1" text-anchor="middle" fill="#2a2a2a" class="t">0.81</text>
<text transform="translate(352.57,216.8) scale(0.96,1)" font-size="5.1" text-anchor="middle" fill="#2a2a2a" class="t">0.75</text>
<text transform="translate(366.51,216.8) scale(0.96,1)" font-size="5.1" text-anchor="middle" fill="#2a2a2a" class="t">1.12</text>
<text transform="translate(380.45,216.8) scale(0.96,1)" font-size="5.1" text-anchor="middle" fill="#2a2a2a" class="t">0.73</text>
<text transform="translate(394.39,216.8) scale(0.96,1)" font-size="5.1" text-anchor="middle" fill="#2a2a2a" class="t">1.34</text>
<text transform="translate(408.33,216.8) scale(0.96,1)" font-size="5.1" text-anchor="middle" fill="#2a2a2a" class="t">0.89</text>
<text transform="translate(422.27,216.8) scale(0.96,1)" font-size="5.1" text-anchor="middle" fill="#2a2a2a" class="t">0.63</text>
<text transform="translate(436.21,216.8) scale(0.96,1)" font-size="5.1" text-anchor="middle" fill="#2a2a2a" class="t">0.48</text>
<text transform="translate(450.15,216.8) scale(0.96,1)" font-size="5.1" text-anchor="middle" fill="#2a2a2a" class="t">0.33</text>
<text transform="translate(464.09,216.8) scale(0.96,1)" font-size="5.1" text-anchor="middle" fill="#2a2a2a" class="t">0.37</text>
<text transform="translate(478.03,216.8) scale(0.96,1)" font-size="5.1" text-anchor="middle" fill="#2a2a2a" class="t">3.86</text>
<text transform="translate(491.97,216.8) scale(0.96,1)" font-size="5.1" text-anchor="middle" fill="#2a2a2a" class="t">5.78</text>
<text transform="translate(505.91,216.8) scale(0.96,1)" font-size="5.1" text-anchor="middle" fill="#2a2a2a" class="t">3.48</text>
<text transform="translate(8.7,236.6) scale(0.78,1)" font-size="11.3" text-anchor="start" >B</text>
<text transform="translate(116.4,234.1) scale(0.92,1)" font-size="8.1" text-anchor="middle" >IDH2-R140</text>
<text transform="translate(243.5,234.1) scale(0.92,1)" font-size="8.1" text-anchor="middle" >IDH2-R172</text>
<line x1="52.4" y1="240.2" x2="52.4" y2="390.5" stroke="#111" stroke-width="1"/>
<line x1="49.6" y1="388.20" x2="52.4" y2="388.20" stroke="#111" stroke-width="1"/>
<text transform="translate(47,390.40) scale(0.84,1)" font-size="6.3" text-anchor="end" >0.0</text>
<line x1="49.6" y1="374.90" x2="52.4" y2="374.90" stroke="#111" stroke-width="1"/>
<text transform="translate(47,377.10) scale(0.84,1)" font-size="6.3" text-anchor="end" >0.2</text>
<line x1="49.6" y1="361.60" x2="52.4" y2="361.60" stroke="#111" stroke-width="1"/>
<text transform="translate(47,363.80) scale(0.84,1)" font-size="6.3" text-anchor="end" >0.4</text>
<line x1="49.6" y1="348.30" x2="52.4" y2="348.30" stroke="#111" stroke-width="1"/>
<text transform="translate(47,350.50) scale(0.84,1)" font-size="6.3" text-anchor="end" >0.6</text>
<line x1="49.6" y1="335.00" x2="52.4" y2="335.00" stroke="#111" stroke-width="1"/>
<text transform="translate(47,337.20) scale(0.84,1)" font-size="6.3" text-anchor="end" >0.8</text>
<line x1="49.6" y1="321.70" x2="52.4" y2="321.70" stroke="#111" stroke-width="1"/>
<text transform="translate(47,323.90) scale(0.84,1)" font-size="6.3" text-anchor="end" >1.0</text>
<line x1="49.6" y1="308.40" x2="52.4" y2="308.40" stroke="#111" stroke-width="1"/>
<text transform="translate(47,310.60) scale(0.84,1)" font-size="6.3" text-anchor="end" >1.2</text>
<line x1="49.6" y1="295.10" x2="52.4" y2="295.10" stroke="#111" stroke-width="1"/>
<text transform="translate(47,297.30) scale(0.84,1)" font-size="6.3" text-anchor="end" >1.4</text>
<line x1="49.6" y1="281.80" x2="52.4" y2="281.80" stroke="#111" stroke-width="1"/>
<text transform="translate(47,284.00) scale(0.84,1)" font-size="6.3" text-anchor="end" >1.6</text>
<line x1="49.6" y1="268.50" x2="52.4" y2="268.50" stroke="#111" stroke-width="1"/>
<text transform="translate(47,270.70) scale(0.84,1)" font-size="6.3" text-anchor="end" >1.8</text>
<line x1="49.6" y1="255.20" x2="52.4" y2="255.20" stroke="#111" stroke-width="1"/>
<text transform="translate(47,257.40) scale(0.84,1)" font-size="6.3" text-anchor="end" >2.0</text>
<line x1="49.6" y1="241.90" x2="52.4" y2="241.90" stroke="#111" stroke-width="1"/>
<text transform="translate(47,244.10) scale(0.84,1)" font-size="6.3" text-anchor="end" >2.2</text>
<text transform="translate(23.2,315.2) rotate(-90) scale(0.93,1)" font-size="8.7" text-anchor="middle">Minimum on-treatment 2-HG</text>
<text transform="translate(31.9,315.9) rotate(-90) scale(1.0,1)" font-size="8.0" text-anchor="middle">(baseline-normalized)</text>
<line x1="74.2" y1="374.3" x2="74.2" y2="380.0" stroke="#697070" stroke-width="1.1"/>
<line x1="74.2" y1="385.7" x2="74.2" y2="388.2" stroke="#697070" stroke-width="1.1"/>
<rect x="65.3" y="380.0" width="17.8" height="5.699999999999989" fill="#a3303f"/>
<line x1="65.3" y1="384.33635" x2="83.1" y2="384.33635" stroke="#111" stroke-width="1.4"/>
<circle cx="74.2" cy="355.4" r="1.6" fill="none" stroke="#111" stroke-width="1"/>
<circle cx="74.2" cy="359.2" r="1.6" fill="none" stroke="#111" stroke-width="1"/>
<circle cx="74.2" cy="361.0" r="1.6" fill="none" stroke="#111" stroke-width="1"/>
<line x1="116.5" y1="372.8" x2="116.5" y2="381.1" stroke="#697070" stroke-width="1.1"/>
<rect x="107.6" y="381.1" width="17.8" height="7.2999999999999545" fill="url(#hr1)"/>
<line x1="107.6" y1="384.6223" x2="125.39999999999999" y2="384.6223" stroke="#111" stroke-width="1.4"/>
<circle cx="116.5" cy="371.2" r="1.6" fill="none" stroke="#111" stroke-width="1"/>
<line x1="158.9" y1="361.6" x2="158.9" y2="375.1" stroke="#697070" stroke-width="1.1"/>
<line x1="158.9" y1="385.8" x2="158.9" y2="388.2" stroke="#697070" stroke-width="1.1"/>
<rect x="150.0" y="375.1" width="17.8" height="10.699999999999989" fill="url(#hr2)"/>
<line x1="150.0" y1="381.55665" x2="167.8" y2="381.55665" stroke="#111" stroke-width="1.4"/>
<circle cx="158.9" cy="343.6" r="1.6" fill="none" stroke="#111" stroke-width="1"/>
<circle cx="158.9" cy="344.6" r="1.6" fill="none" stroke="#111" stroke-width="1"/>
<circle cx="158.9" cy="351.2" r="1.6" fill="none" stroke="#111" stroke-width="1"/>
<circle cx="158.9" cy="354.4" r="1.6" fill="none" stroke="#111" stroke-width="1"/>
<circle cx="158.9" cy="360.0" r="1.6" fill="none" stroke="#111" stroke-width="1"/>
<line x1="201.5" y1="329.5" x2="201.5" y2="353.2" stroke="#697070" stroke-width="1.1"/>
<line x1="201.5" y1="381.6" x2="201.5" y2="384.5" stroke="#697070" stroke-width="1.1"/>
<rect x="192.6" y="353.2" width="17.8" height="28.400000000000034" fill="#77a9d3"/>
<line x1="192.6" y1="376.22335" x2="210.4" y2="376.22335" stroke="#111" stroke-width="1.4"/>
<line x1="243.8" y1="321.7" x2="243.8" y2="332.4" stroke="#697070" stroke-width="1.1"/>
<line x1="243.8" y1="363.3" x2="243.8" y2="378.1" stroke="#697070" stroke-width="1.1"/>
<rect x="234.9" y="332.4" width="17.8" height="30.900000000000034" fill="url(#hb1)"/>
<line x1="234.9" y1="351.15285" x2="252.70000000000002" y2="351.15285" stroke="#111" stroke-width="1.4"/>
<circle cx="243.8" cy="242.0" r="1.6" fill="none" stroke="#111" stroke-width="1"/>
<line x1="286.3" y1="281.3" x2="286.3" y2="323.7" stroke="#697070" stroke-width="1.1"/>
<line x1="286.3" y1="365.7" x2="286.3" y2="388.2" stroke="#697070" stroke-width="1.1"/>
<rect x="277.40000000000003" y="323.7" width="17.8" height="42.0" fill="url(#hb2)"/>
<line x1="277.40000000000003" y1="347.20275" x2="295.20000000000005" y2="347.20275" stroke="#111" stroke-width="1.4"/>
<line x1="200" y1="274.8" x2="285.3" y2="274.8" stroke="#6a6a6a" stroke-width="1.3"/>
<text x="241.8" y="270.8" font-size="5.75" text-anchor="middle" class="t">P=0.032</text>
<line x1="240" y1="297.3" x2="284.6" y2="297.3" stroke="#6a6a6a" stroke-width="1.1"/>
<text x="261.3" y="294.3" font-size="5.6" text-anchor="middle" class="t">P=0.035</text>
<rect x="305" y="249" width="10.2" height="6.4" fill="#111"/>
<rect x="305" y="258.6" width="10.2" height="6.6" fill="url(#hk1)"/>
<rect x="305" y="268" width="10.2" height="6.6" fill="url(#hk2)"/>
<text transform="translate(318.3,253.8) scale(0.891,1)" font-size="5.4" text-anchor="start" fill="#222" class="t">Complete remission (CR)</text>
<text transform="translate(318.2,263.3) scale(0.827,1)" font-size="5.4" text-anchor="start" fill="#222" class="t">Non-CR Response (CRp, CRi, PR, MLFS)</text>
<text transform="translate(318.2,273.0) scale(0.847,1)" font-size="5.4" text-anchor="start" fill="#222" class="t">No Response (SD, PD)</text>
<rect x="7" y="394.6" width="44" height="19.2" fill="#e7e3e3"/>
<rect x="54" y="394.6" width="122.5" height="19.2" fill="#e7e3e3"/>
<rect x="179" y="394.6" width="128" height="19.2" fill="#e7e3e3"/>
<line x1="7" y1="414.5" x2="307.5" y2="414.5" stroke="#222" stroke-width="1"/>
<line x1="52.5" y1="394.2" x2="52.5" y2="441.5" stroke="#333" stroke-width="1"/>
<line x1="177.5" y1="394.2" x2="177.5" y2="441.5" stroke="#333" stroke-width="1"/>
<text transform="translate(10,402.7) scale(0.88,1)" font-size="5.4" text-anchor="start" class="u" fill="#1a1a1a">Best</text>
<text transform="translate(10,408.8) scale(0.88,1)" font-size="5.4" text-anchor="start" class="u" fill="#1a1a1a">Response</text>
<text x="10" y="422.9" font-size="5.5" text-anchor="start" class="s" fill="#222">N</text>
<text x="10" y="429.0" font-size="5.5" text-anchor="start" class="s" fill="#222">Median</text>
<text x="10" y="435.2" font-size="5.5" text-anchor="start" class="s" fill="#222">Outliers</text>
<text transform="translate(74.2,406.3) scale(0.88,1)" font-size="5.4" text-anchor="middle" class="u" fill="#1a1a1a">CR</text>
<text x="74.2" y="423.2" font-size="5.5" text-anchor="middle" class="s" fill="#222">23</text>
<text x="74.2" y="429.3" font-size="5.5" text-anchor="middle" class="s" fill="#222">0.0581</text>
<text x="74.2" y="435.4" font-size="5.5" text-anchor="middle" class="s" fill="#222">3</text>
<text transform="translate(116.5,402.7) scale(0.88,1)" font-size="5.4" text-anchor="middle" class="u" fill="#1a1a1a">Non-CR</text>
<text transform="translate(116.5,408.8) scale(0.88,1)" font-size="5.4" text-anchor="middle" class="u" fill="#1a1a1a">response</text>
<text x="116.5" y="423.2" font-size="5.5" text-anchor="middle" class="s" fill="#222">23</text>
<text x="116.5" y="429.3" font-size="5.5" text-anchor="middle" class="s" fill="#222">0.0538</text>
<text x="116.5" y="435.4" font-size="5.5" text-anchor="middle" class="s" fill="#222">1</text>
<text transform="translate(158.9,402.7) scale(0.88,1)" font-size="5.4" text-anchor="middle" class="u" fill="#1a1a1a">No</text>
<text transform="translate(158.9,408.8) scale(0.88,1)" font-size="5.4" text-anchor="middle" class="u" fill="#1a1a1a">response</text>
<text x="158.9" y="423.2" font-size="5.5" text-anchor="middle" class="s" fill="#222">72</text>
<text x="158.9" y="429.3" font-size="5.5" text-anchor="middle" class="s" fill="#222">0.0999</text>
<text x="158.9" y="435.4" font-size="5.5" text-anchor="middle" class="s" fill="#222">7</text>
<text transform="translate(201.5,406.3) scale(0.88,1)" font-size="5.4" text-anchor="middle" class="u" fill="#1a1a1a">CR</text>
<text x="201.5" y="423.2" font-size="5.5" text-anchor="middle" class="s" fill="#222">8</text>
<text x="201.5" y="429.3" font-size="5.5" text-anchor="middle" class="s" fill="#222">0.1801</text>
<text x="201.5" y="435.4" font-size="5.5" text-anchor="middle" class="s" fill="#222">0</text>
<text transform="translate(243.8,402.7) scale(0.88,1)" font-size="5.4" text-anchor="middle" class="u" fill="#1a1a1a">Non-CR</text>
<text transform="translate(243.8,408.8) scale(0.88,1)" font-size="5.4" text-anchor="middle" class="u" fill="#1a1a1a">response</text>
<text x="243.8" y="423.2" font-size="5.5" text-anchor="middle" class="s" fill="#222">11</text>
<text x="243.8" y="429.3" font-size="5.5" text-anchor="middle" class="s" fill="#222">0.5571</text>
<text x="243.8" y="435.4" font-size="5.5" text-anchor="middle" class="s" fill="#222">1</text>
<text transform="translate(286.3,402.7) scale(0.88,1)" font-size="5.4" text-anchor="middle" class="u" fill="#1a1a1a">No</text>
<text transform="translate(286.3,408.8) scale(0.88,1)" font-size="5.4" text-anchor="middle" class="u" fill="#1a1a1a">response</text>
<text x="286.3" y="423.2" font-size="5.5" text-anchor="middle" class="s" fill="#222">18</text>
<text x="286.3" y="429.3" font-size="5.5" text-anchor="middle" class="s" fill="#222">0.6165</text>
<text x="286.3" y="435.4" font-size="5.5" text-anchor="middle" class="s" fill="#222">0</text>
<text transform="translate(7.1,449.8) scale(0.921,1)" font-size="6.4" text-anchor="start" class="t" fill="#111">2-HG, 2-hydroxyglutarate; CR, complete remission; CRp/CRi, CR with incomplete platelet/hematologic recovery;</text>
<text transform="translate(7.1,458.1) scale(0.897,1)" font-size="6.4" text-anchor="start" class="t" fill="#111">MLFS, morphologic leukemia-free state; PR,&#160; partial remission; PD, progressive disease; SD, stable disease</text>
<rect x="0.5" y="0.5" width="519" height="465" fill="none" stroke="#000" stroke-width="1"/>
</svg>
</body></html>
